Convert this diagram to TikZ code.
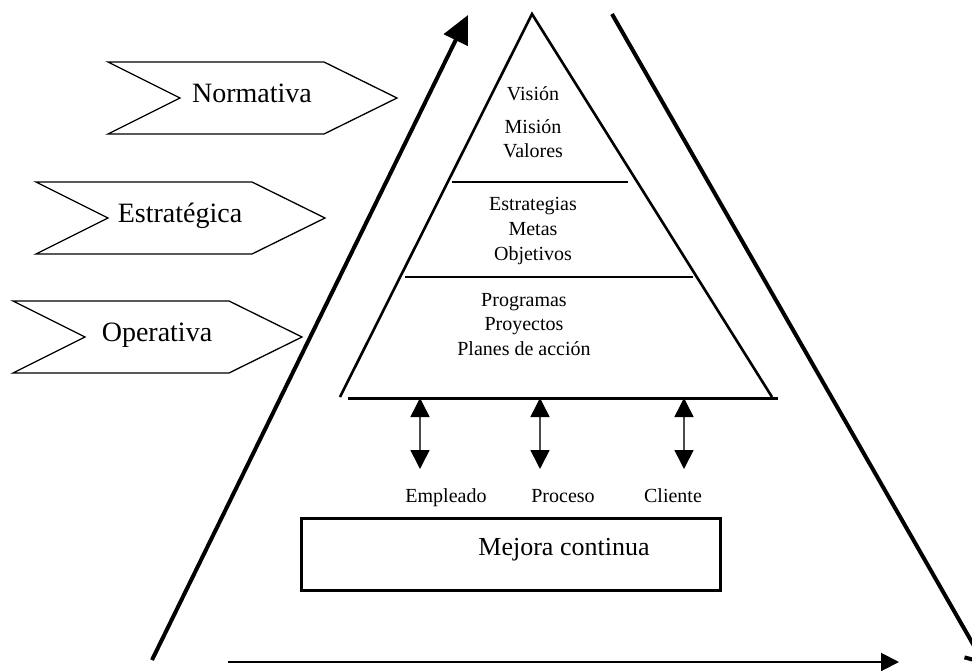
\documentclass[tikz,border=0pt]{standalone}
\usepackage{fontspec}
\setmainfont{Liberation Serif}
\usetikzlibrary{arrows.meta}
\tikzset{
  lbl/.style={font=\fontsize{20}{24}\selectfont, inner sep=0pt, anchor=base},
  biglbl/.style={font=\fontsize{28}{32}\selectfont, inner sep=0pt, anchor=base},
  twoway/.style={line width=1.6pt, black!70, {Triangle[length=19pt,width=19pt,black]}-{Triangle[length=19pt,width=19pt,black]}},
}
\begin{document}
\begin{tikzpicture}[x=1pt,y=-1pt]
\useasboundingbox (0,0) rectangle (972,670);
%% Levels
\foreach \lx/\cy/\nm/\txt in {108/98/norm/Normativa, 36/218/estr/Estratégica, 13/337/oper/Operativa}{
  \draw[line width=1.3pt] (\lx,\cy-36) -- ++(216,0) -- ++(73,36) -- ++(-73,36) -- ++(-216,0) -- ++(72,-36) -- cycle;
  \node[biglbl] (\nm) at (\lx+144,\cy+4) {\txt};
}
%% Pyramid
\coordinate (apex) at (532,14);
\coordinate (lfoot) at (340,397);
\coordinate (rfoot) at (772,397);
\draw[line width=2.6pt] (lfoot) -- (apex) -- (rfoot);
\coordinate (b1) at (348,398);
\coordinate (b2) at (778,398);
\draw[line width=3pt] (b1) -- (b2);
\coordinate (d1l) at (452,182);
\coordinate (d1r) at (628,182);
\coordinate (d2l) at (405,277);
\coordinate (d2r) at (693,277);
\draw[line width=1.5pt] (d1l) -- (d1r);
\draw[line width=1.5pt] (d2l) -- (d2r);
\foreach \x/\y/\t [count=\i] in {533/100/Visión, 533/133/Misión, 533/157/Valores, 533/210/Estrategias, 533/235/Metas, 533/260/Objetivos, 524/306/Programas, 524/330/Proyectos, 524/355/Planes de acción}
  \node[lbl] (t\i) at (\x,\y) {\t};
%% Outer arrows
\coordinate (up0) at (152,660);
\coordinate (up1) at (468,15);
\draw[line width=4pt, -{Triangle[length=28pt,width=26pt]}] (up0) -- (up1);
\coordinate (dn0) at (612,14);
\coordinate (dn1) at (985,665);
\draw[line width=4pt, -{Straight Barb[length=14pt,width=28pt]}] (dn0) -- (dn1);
\coordinate (time0) at (228,662);
\coordinate (time1) at (899,662);
\draw[line width=2pt, -{Triangle[length=18pt,width=18pt]}] (time0) -- (time1);
%% Links
\foreach \x/\nm in {420/a1, 540/a2, 684/a3}{
  \coordinate (\nm) at (\x,398);
  \coordinate (\nm e) at (\x,469);
  \draw[twoway] (\nm) -- (\nm e);
}
\node[lbl] (emp) at (446,502) {Empleado};
\node[lbl] (pro) at (563,502) {Proceso};
\node[lbl] (cli) at (673,502) {Cliente};
%% Box
\node[draw, line width=3pt, minimum width=419pt, minimum height=72pt, inner sep=0pt] (mejora) at (510.5,554) {};
\node[lbl, font=\fontsize{26}{30}\selectfont] (mejoratxt) at (564,555) {Mejora continua};
\end{tikzpicture}
\end{document}
